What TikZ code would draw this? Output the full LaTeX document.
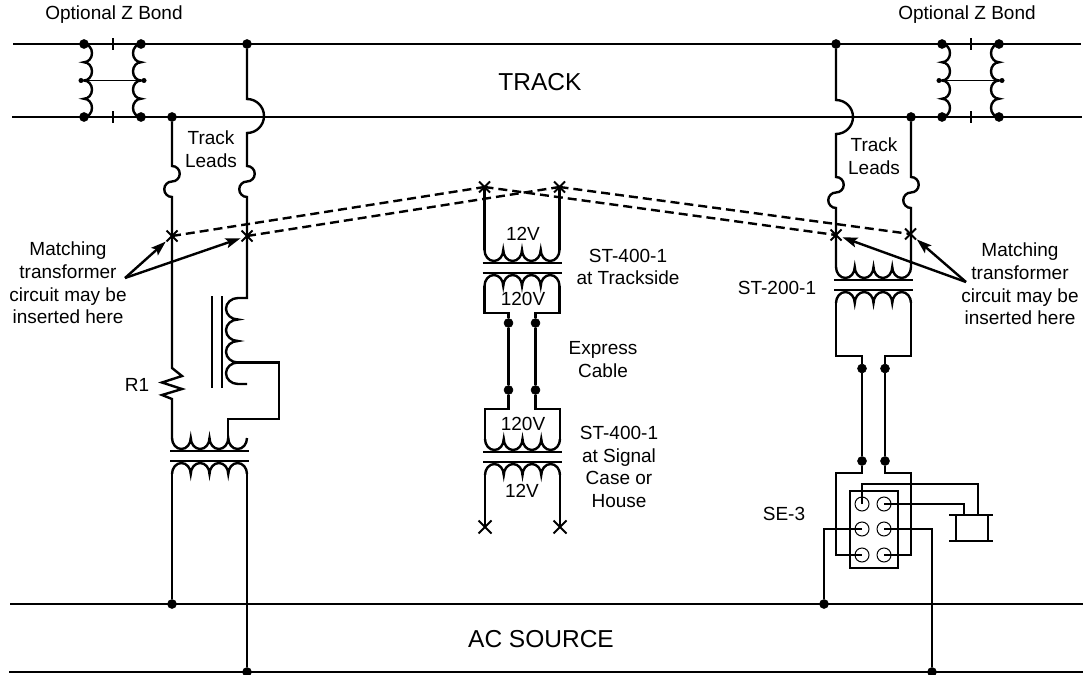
\documentclass[tikz,border=0pt]{standalone}
\usepackage{fontspec}
\setmainfont{Liberation Sans}
\usetikzlibrary{arrows.meta,positioning,shapes.misc}
\tikzstyle{Adot}=[draw,fill=black,circle,minimum size=9pt,inner sep=0,line width=0.5pt]
\tikzstyle{Asmall}=[fill=black,circle,minimum size=5pt,inner sep=0]
\tikzstyle{Atick}=[fill=black,minimum width=2pt,minimum height=12pt,inner sep=0]
\tikzstyle{Ax}=[draw,cross out,minimum size=9pt,inner sep=0,line width=2pt]
\tikzstyle{Apin}=[draw,circle,minimum size=14pt,inner sep=0,line width=1pt]
\tikzstyle{Aplate}=[fill=black,minimum width=44pt,minimum height=2.4pt,inner sep=0]
\tikzstyle{Acase}=[draw,minimum width=48pt,minimum height=77pt,inner sep=0]
\tikzstyle{Abatt}=[draw,minimum width=32pt,minimum height=26pt,inner sep=0]
\tikzstyle{Atext}=[inner sep=0,align=center,font=\fontsize{19}{22.8}\selectfont]
\tikzstyle{Abig}=[inner sep=0,font=\fontsize{24.5}{28}\selectfont]
\tikzstyle{tap}=[dashed,dash pattern=on 9pt off 5pt]
\tikzstyle{hit}=[-{Stealth[length=15pt,width=10pt,inset=3pt]},shorten >=1pt]
\newcommand{\bdown}{arc[start angle=180,end angle=360,x radius=9.375pt,y radius=11pt]}
\newcommand{\bup}{arc[start angle=180,end angle=0,x radius=9.375pt,y radius=11pt]}
\newcommand{\zright}{arc[start angle=90,end angle=-90,x radius=8pt,y radius=9.125pt]}
\newcommand{\zleft}{arc[start angle=90,end angle=270,x radius=8pt,y radius=9.125pt]}
\newcommand{\swig}{arc[start angle=90,end angle=-90,radius=7.75pt] arc[start angle=90,end angle=270,radius=7.75pt]}
\newcommand{\hump}{arc[start angle=90,end angle=-90,radius=17pt]}
\newcommand{\chk}{arc[start angle=90,end angle=270,x radius=12pt,y radius=10.75pt]}
\newcommand{\xfmr}[3]{\coordinate (#1ul) at (#2,#3+18);\coordinate (#1ur) at (#2+75,#3+18);\coordinate (#1ll) at (#2,#3-18);\coordinate (#1lr) at (#2+75,#3-18);
  \draw (#1ul) \bdown \bdown \bdown \bdown;\draw (#1ll) \bup \bup \bup \bup;
  \draw (#2-2,#3+5) -- (#2+77,#3+5);\draw (#2-2,#3-5) -- (#2+77,#3-5);}
\newcommand{\zbond}[3]{\node[Adot] (#1a) at (#2,-44) {};\node[Adot,right of=#1a,node distance=57pt] (#1b) {};\node[Adot,below of=#1a,node distance=73pt] (#1c) {};\node[Adot,right of=#1c,node distance=57pt] (#1d) {};
  \node[Asmall] (#1e) at (#2-3,-80.5) {};\node[Asmall] (#1f) at (#2+60,-80.5) {};\node[Atick] (#1g) at (#2+29,-44) {};\node[Atick] (#1h) at (#2+29,-117) {};
  \draw (#1a.center) \zright \zright \zright \zright;\draw (#1b.center) \zleft \zleft \zleft \zleft;\draw[line width=1.8pt] (#1e) -- (#1f);
  \node[Atext] (#1t) at (#3,-15) {Optional Z Bond};}
\begin{document}
\begin{tikzpicture}[x=1pt,y=1pt,line width=2.4pt]
  \useasboundingbox (0,0) rectangle (1083,-674);
  \coordinate (ta) at (13,-44);\coordinate (tb) at (1081,-44);
  \coordinate (tc) at (12,-117);\coordinate (td) at (1082,-117);
  \coordinate (sa) at (10,-604);\coordinate (sb) at (1083,-604);
  \coordinate (sc) at (9,-672);\coordinate (sd) at (1083,-672);
  \draw (ta) -- (tb);\draw (tc) -- (td);\draw (sa) -- (sb);\draw (sc) -- (sd);
  \zbond{zl}{84}{114}
  \zbond{zr}{942}{967}
  \node[Abig] (track) at (540,-82) {TRACK};
  \node[Abig] (source) at (541,-639) {AC SOURCE};
  \node[Adot] (l1) at (172,-117) {};
  \node[Adot] (l2) at (247,-44) {};
  \node[Adot] (r1) at (836,-44) {};
  \node[Adot] (r2) at (911,-117) {};
  \node[Ax] (xa) at (172,-236) {};
  \node[Ax] (xb) at (247,-236) {};
  \node[Ax] (xc) at (484.5,-187) {};
  \node[Ax] (xd) at (559.5,-187) {};
  \node[Ax] (xe) at (836,-235) {};
  \node[Ax] (xf) at (910.5,-234) {};
  \node[Ax,minimum size=11pt] (xg) at (485,-527) {};
  \node[Ax,minimum size=11pt] (xh) at (560,-527) {};
  \draw[tap] (xa.center) -- (xc.center);
  \draw[tap] (xb.center) -- (xd.center);
  \draw[tap] (xc.center) -- (xe.center);
  \draw[tap] (xd.center) -- (xf.center);
  \xfmr{lx}{172}{-456}
  \xfmr{ax}{484.5}{-268}
  \xfmr{bx}{485}{-457}
  \xfmr{rx}{836}{-285}
  \node[Adot] (ld) at (172,-604) {};
  \node[Adot] (le) at (247,-672) {};
  \draw (l1) -- ++(0,-49) \swig -- (172,-368) -- ++(10,-8) -- ++(-20,-6.5) -- ++(20,-6.5) -- ++(-20,-6) -- ++(10,-4) -- (lxul);
  \draw (l2) -- (247,-99) \hump -- (247,-166) \swig -- (247,-298) -- (238,-298) \chk \chk \chk \chk -- (247,-384);
  \draw (238,-362.5) -- (279,-362.5) |- (228.25,-419) -- (228.25,-438);
  \draw (212,-296) -- (212,-388);
  \draw (222,-296) -- (222,-388);
  \draw (lxll) -- (ld);
  \draw (lxlr) -- (le);
  \draw (xc.center) -- (axul);
  \draw (xd.center) -- (axur);
  \node[Adot] (ca) at (508.5,-323) {};
  \node[Adot] (cb) at (535.5,-323) {};
  \node[Adot] (cc) at (508.5,-390) {};
  \node[Adot] (cd) at (535.5,-390) {};
  \draw (axll) -- ++(0,-27) -| (ca);
  \draw (axlr) -- ++(0,-27) -| (cb);
  \draw (ca) -- (cc);
  \draw (cb) -- (cd);
  \draw (cc) -- ++(0,-19) -| (bxul);
  \draw (cd) -- ++(0,-19) -| (bxur);
  \draw (bxll) -- (xg.center);
  \draw (bxlr) -- (xh.center);
  \draw (r1) -- (836,-100) \hump -- (836,-177) \swig -- (rxul);
  \draw (r2) -- (911,-177) \swig -- (rxur);
  \node[Adot] (ra) at (862,-368.5) {};
  \node[Adot] (rb) at (885,-368.5) {};
  \node[Adot] (rc) at (862,-461) {};
  \node[Adot] (rd) at (885,-461) {};
  \draw (rxll) -- ++(0,-53) -| (ra);
  \draw (rxlr) -- ++(0,-53) -| (rb);
  \draw (ra) -- (rc);
  \draw (rb) -- (rd);
  \node[Acase] (case) at (874,-529.5) {};
  \node[Apin] (pa) at (862,-504) {};
  \node[Apin] (pb) at (884,-504) {};
  \node[Apin] (pc) at (862,-529) {};
  \node[Apin] (pd) at (884,-529) {};
  \node[Apin] (pe) at (862,-555) {};
  \node[Apin] (pf) at (884,-555) {};
  \draw (rc) -- ++(0,-12) -- ++(-26,0) |- (pe.center);
  \draw (rd) -- ++(0,-12) -- ++(26,0) |- (pf.center);
  \node[Abatt] (batt) at (972,-528) {};
  \node[Aplate] (pla) at (971,-515) {};
  \node[Aplate] (plb) at (971,-541) {};
  \coordinate (ba) at (978,-484);
  \coordinate (bb) at (978,-515);
  \coordinate (bc) at (964,-515);
  \draw (pa.center) |- (ba) -- (bb);
  \draw (pb.center) -| (bc);
  \node[Adot] (se) at (824,-604) {};
  \node[Adot] (sf) at (932,-672) {};
  \draw (pc.center) -| (se);
  \draw (pd.center) -| (sf);
  \coordinate (ma) at (125,-278);
  \coordinate (mb) at (966,-282);
  \draw[hit] (ma) -- (xa);
  \draw[hit] (ma) -- (xb);
  \draw[hit] (mb) -- (xe);
  \draw[hit] (mb) -- (xf);
  \node[Atext] (lm) at (68,-283) {Matching\\transformer\\circuit may be\\inserted here};
  \node[Atext] (rm) at (1020,-284) {Matching\\transformer\\circuit may be\\inserted here};
  \node[Atext] (ll) at (211,-149) {Track\\Leads};
  \node[Atext] (rl) at (874,-156.5) {Track\\Leads};
  \node[Atext] (ta12) at (523,-234) {12V};
  \node[Atext] (ta120) at (523,-299) {120V};
  \node[Atext] (tb120) at (523,-424) {120V};
  \node[Atext] (tb12) at (522,-491) {12V};
  \node[Atext] (sta) at (628,-267) {ST-400-1\\at Trackside};
  \node[Atext] (exp) at (603,-359.5) {Express\\Cable};
  \node[Atext] (stb) at (619,-467) {ST-400-1\\at Signal\\Case or\\House};
  \node[Atext] (stc) at (777,-288) {ST-200-1};
  \node[Atext] (r1t) at (137,-385) {R1};
  \node[Atext] (se3) at (784,-514) {SE-3};
\end{tikzpicture}
\end{document}
